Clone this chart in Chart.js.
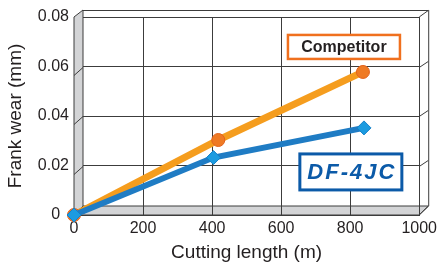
<!DOCTYPE html>
<html>
<head>
<meta charset="utf-8">
<script src="https://cdn.jsdelivr.net/npm/chart.js@4/dist/chart.umd.min.js"></script>
<style>
    html, body { margin: 0; padding: 0; background: #ffffff; }
    #chart { display: block; }
</style>
</head>
<body>
<canvas id="chart" width="441" height="268"></canvas>
<script>
// ============= DATA =============
const xTicks = [0, 200, 400, 600, 800, 1000];
const yTicks = [0, 0.02, 0.04, 0.06, 0.08];

const competitorX = [0, 418, 837];
const competitorY = [0, 0.0303, 0.0578];

const dfX = [0, 404, 840];
const dfY = [0, 0.0232, 0.0352];

const FONT = '"Liberation Sans", Arial, sans-serif';
const DEPTH = 9;

function toPoints(xs, ys) {
    return xs.map((x, i) => ({ x: x, y: ys[i] }));
}

// ============= 3D BOX =============
const boxPlugin = {
    id: 'box3d',
    beforeDatasetsDraw(chart) {
        const ctx = chart.ctx;
        const a = chart.chartArea;
        const L = a.left, R = a.right, T = a.top, B = a.bottom;
        const yScale = chart.scales.y;
        const xScale = chart.scales.x;
        ctx.save();
        ctx.strokeStyle = '#3c3c3c';
        ctx.lineWidth = 1;

        // floor
        ctx.fillStyle = '#d3d4d6';
        ctx.beginPath();
        ctx.moveTo(L, B);
        ctx.lineTo(L + DEPTH, B - DEPTH);
        ctx.lineTo(R + DEPTH, B - DEPTH);
        ctx.lineTo(R, B);
        ctx.closePath();
        ctx.fill();
        ctx.stroke();

        // vertical grid through the floor
        xTicks.forEach(v => {
            const px = Math.round(xScale.getPixelForValue(v)) + 0.5;
            ctx.beginPath();
            ctx.moveTo(px, B - DEPTH);
            ctx.lineTo(px, B);
            ctx.stroke();
        });

        // left wall
        ctx.beginPath();
        ctx.moveTo(L, T);
        ctx.lineTo(L + DEPTH, T - 7);
        ctx.lineTo(L + DEPTH, B - DEPTH);
        ctx.lineTo(L, B);
        ctx.closePath();
        ctx.fill();
        ctx.stroke();

        yTicks.forEach(v => {
            if (v === 0 || v === 0.08) return;
            const py = Math.round(yScale.getPixelForValue(v)) + 0.5;
            ctx.beginPath();
            ctx.moveTo(L, py + 8);
            ctx.lineTo(L + DEPTH, py);
            ctx.stroke();
        });

        // top and right edges
        ctx.beginPath();
        ctx.moveTo(L + DEPTH, T - 7 + 0.5);
        ctx.lineTo(R + DEPTH, T - 7 + 0.5);
        ctx.lineTo(R, T);
        ctx.moveTo(R + DEPTH + 0.5, T - 7);
        ctx.lineTo(R + DEPTH + 0.5, B - DEPTH);
        ctx.lineTo(R, B);
        ctx.stroke();

        yTicks.forEach(v => {
            if (v === 0 || v === 0.08) return;
            const py = Math.round(yScale.getPixelForValue(v)) + 0.5;
            ctx.beginPath();
            ctx.moveTo(R, py);
            ctx.lineTo(R + DEPTH, py - 6);
            ctx.stroke();
        });
        ctx.restore();
    },
    afterDatasetsDraw(chart) {
        const ctx = chart.ctx;
        const xs = chart.scales.x;
        const ys = chart.scales.y;
        ctx.save();

        // Competitor label
        let cx = xs.getPixelForValue(782), cy = ys.getPixelForValue(0.0679);
        ctx.fillStyle = '#ffffff';
        ctx.fillRect(cx - 56, cy - 12, 112, 24);
        ctx.strokeStyle = '#f0701e';
        ctx.lineWidth = 2.5;
        ctx.strokeRect(cx - 56, cy - 12, 112, 24);
        ctx.fillStyle = '#231f20';
        ctx.font = 'bold 16px ' + FONT;
        ctx.textAlign = 'center';
        ctx.textBaseline = 'middle';
        ctx.fillText('Competitor', cx, cy + 1);

        // DF-4JC label
        cx = xs.getPixelForValue(802); cy = ys.getPixelForValue(0.0174);
        ctx.fillStyle = '#ffffff';
        ctx.fillRect(cx - 51, cy - 18, 102, 36);
        ctx.strokeStyle = '#0b5aa8';
        ctx.lineWidth = 3;
        ctx.strokeRect(cx - 51, cy - 18, 102, 36);
        ctx.fillStyle = '#0b5aa8';
        ctx.font = 'italic bold 22px ' + FONT;
        ctx.letterSpacing = '2px';
        ctx.fillText('DF-4JC', cx + 1, cy + 1);
        ctx.restore();
    }
};

// ============= CHART =============
const ctx = document.getElementById('chart');
new Chart(ctx, {
    type: 'line',
    data: {
        datasets: [
            {
                label: 'DF-4JC',
                data: toPoints(dfX, dfY),
                borderColor: '#1f7cc4',
                borderWidth: 6,
                pointStyle: 'rectRot',
                pointRadius: 7,
                pointBackgroundColor: '#1c9be0',
                pointBorderColor: '#1480c8',
                pointBorderWidth: 1,
                tension: 0,
                clip: false
            },
            {
                label: 'Competitor',
                data: toPoints(competitorX, competitorY),
                borderColor: '#f59d1e',
                borderWidth: 7,
                pointStyle: 'circle',
                pointRadius: 6.5,
                pointBackgroundColor: '#ef7a24',
                pointBorderColor: '#e2621c',
                pointBorderWidth: 1,
                tension: 0,
                clip: false
            }
        ]
    },
    options: {
        responsive: false,
        animation: false,
        layout: { padding: { top: 17, right: 18, left: 0, bottom: 0 } },
        plugins: {
            legend: { display: false },
            tooltip: { enabled: false }
        },
        scales: {
            x: {
                type: 'linear',
                min: 0,
                max: 1000,
                afterFit: s => { s.height = 53; },
                afterBuildTicks: s => { s.ticks = xTicks.map(v => ({ value: v })); },
                ticks: {
                    padding: 4,
                    color: '#231f20',
                    font: { family: FONT, size: 16 },
                    maxRotation: 0,
                    callback: v => String(v)
                },
                grid: { color: '#3c3c3c', lineWidth: 1, drawTicks: false },
                border: { color: '#3c3c3c' },
                title: {
                    display: true,
                    text: 'Cutting length (m)',
                    color: '#231f20',
                    font: { family: FONT, size: 19 },
                    padding: { top: 0, bottom: 4 }
                }
            },
            y: {
                min: 0,
                max: 0.08,
                afterFit: s => { s.width = 74; },
                afterBuildTicks: s => { s.ticks = yTicks.map(v => ({ value: v })); },
                ticks: {
                    padding: 5,
                    color: '#231f20',
                    font: { family: FONT, size: 16 },
                    // the 0 label sits left of the wall in the original
                    callback: v => v === 0 ? '0  ' : v.toFixed(2)
                },
                grid: { color: '#3c3c3c', lineWidth: 1, drawTicks: false },
                border: { color: '#3c3c3c' },
                title: {
                    display: true,
                    text: 'Frank wear (mm)',
                    color: '#231f20',
                    font: { family: FONT, size: 19 },
                    padding: { top: 4, bottom: 0 }
                }
            }
        }
    },
    plugins: [boxPlugin]
});
</script>
</body>
</html>
